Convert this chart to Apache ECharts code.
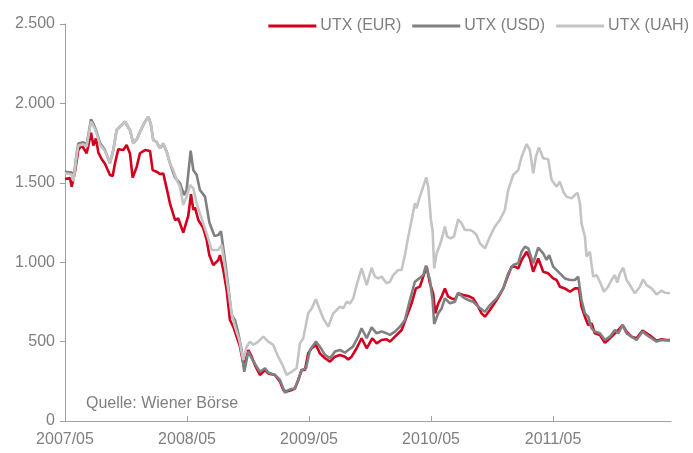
<!DOCTYPE html>
<html>
<head>
<meta charset="utf-8">
<script src="https://cdn.jsdelivr.net/npm/echarts@6/dist/echarts.min.js"></script>
<style>
  html, body { margin: 0; padding: 0; background: #fff; }
  #chart { width: 693px; height: 453px; }
</style>
</head>
<body>
<div id="chart"></div>
<script>
// x values are months since 2007/05
const seriesNames = ['UTX (EUR)', 'UTX (USD)', 'UTX (UAH)'];
const yTicks = [0, 500, 1000, 1500, 2000, 2500];

const eurMonths = [0,0.49,0.66,0.98,1.31,1.64,2.13,2.56,2.79,3.05,
  3.28,3.6,3.93,4.42,4.69,4.92,5.24,5.74,6.06,6.39,
  6.65,7.05,7.37,7.87,8.36,8.62,9.01,9.34,9.67,10.0,
  10.32,10.49,10.82,11.14,11.63,12.12,12.39,12.62,12.78,13.11,
  13.6,13.93,14.19,14.58,14.75,15.08,15.24,15.57,15.9,16.22,
  16.55,16.88,17.21,17.6,18.03,18.36,18.68,19.17,19.67,19.99,
  20.65,21.14,21.47,21.8,22.29,22.62,22.94,23.27,23.6,23.92,
  24.26,24.68,25.07,25.57,26.06,26.55,27.04,27.53,27.86,28.19,
  28.68,29.17,29.67,30.22,30.65,31.14,31.63,31.96,32.45,33.11,
  33.6,34.09,34.51,34.91,35.23,35.57,35.89,36.21,36.41,36.71,
  37.04,37.36,37.69,38.02,38.35,38.67,39.16,39.66,40.15,40.64,
  40.97,41.3,41.79,42.45,43.1,43.59,43.92,44.25,44.57,44.91,
  45.4,45.72,46.05,46.54,47.03,47.52,48.01,48.35,48.67,49.16,
  49.66,50.15,50.54,50.8,51.13,51.46,51.79,52.11,52.61,53.1,
  53.59,54.08,54.41,54.84,55.23,55.72,56.21,56.8,57.2,57.69,
  58.18,58.67,59.16,59.49];
const eurValues = [1524,1530,1475,1570,1706,1738,1686,1816,1734,1780,
  1690,1650,1620,1549,1543,1623,1711,1707,1738,1685,
  1532,1600,1686,1706,1700,1580,1570,1555,1558,1465,
  1371,1380,1266,1275,1186,1291,1429,1330,1345,1266,
  1215,1141,1045,982,972,1014,1045,951,825,636,
  594,531,468,342,447,405,352,290,321,300,
  290,248,195,185,195,206,258,321,321,426,
  458,479,426,395,374,405,416,405,388,405,
  458,521,458,521,489,510,515,500,531,573,
  657,741,835,846,909,972,867,804,678,741,
  783,835,783,772,765,804,793,787,772,720,
  678,657,699,762,835,919,972,972,961,1014,
  1066,1024,940,1024,940,930,898,888,846,835,
  814,835,835,720,657,604,615,552,542,493,
  521,552,573,604,563,531,521,569,552,531,
  506,514,510,510];

const usdMonths = [0,0.66,0.82,1.15,1.31,1.8,2.13,2.56,2.88,3.11,
  3.28,3.44,3.93,4.42,4.75,5.08,5.57,5.9,6.22,6.39,
  6.72,7.11,7.37,7.87,8.19,8.43,8.68,9.01,9.34,9.67,
  10.0,10.32,10.82,11.31,11.7,11.96,12.36,12.62,12.95,13.27,
  13.77,14.2,14.7,15.08,15.34,15.73,16.06,16.39,16.72,17.04,
  17.37,17.63,18.03,18.36,18.85,19.17,19.67,19.99,20.65,21.14,
  21.63,21.96,22.62,22.94,23.27,23.7,24.09,24.68,25.07,25.57,
  26.06,26.55,27.04,27.53,27.86,28.32,28.84,29.17,29.67,30.16,
  30.65,31.14,31.63,31.96,32.45,32.94,33.43,33.92,34.41,34.84,
  35.23,35.5,35.89,36.15,36.31,36.71,37.04,37.36,37.86,38.35,
  38.67,39.16,39.66,40.15,40.64,41.3,41.79,42.45,43.1,43.59,
  44.08,44.57,44.91,45.23,45.56,46.05,46.54,47.03,47.36,47.62,
  48.01,48.67,49.16,49.66,50.15,50.47,50.8,51.13,51.46,51.79,
  52.11,52.61,53.1,53.59,54.08,54.41,54.84,55.23,55.72,56.21,
  56.8,57.2,57.69,58.18,58.67,59.49];
const usdValues = [1570,1564,1520,1686,1748,1755,1740,1900,1860,1820,
  1830,1750,1706,1623,1706,1832,1864,1885,1850,1832,
  1748,1780,1820,1885,1916,1874,1769,1758,1717,1748,
  1696,1623,1534,1497,1423,1455,1702,1580,1549,1455,
  1413,1250,1165,1171,1195,1014,846,667,636,552,
  447,310,437,395,342,310,332,305,290,258,
  178,195,206,258,321,330,447,500,468,416,
  395,437,447,430,447,468,531,584,521,590,
  552,563,552,542,563,594,636,762,877,898,
  919,978,888,762,611,678,709,772,741,751,
  808,779,762,751,720,688,730,772,835,930,
  982,993,1066,1098,1087,993,1092,1056,1014,1045,
  972,930,898,888,888,909,762,678,657,583,
  563,552,510,531,573,552,604,552,531,510,
  563,542,521,500,510,506];

const uahMonths = [0,0.66,0.82,1.15,1.31,1.8,2.13,2.56,2.88,3.11,
  3.28,3.44,3.93,4.42,4.75,5.08,5.57,5.9,6.22,6.39,
  6.72,7.11,7.37,7.87,8.19,8.43,8.68,9.01,9.34,9.67,
  10.0,10.32,
  10.65,10.98,11.31,11.63,11.96,12.29,12.62,12.95,13.27,13.6,
  13.93,14.42,14.58,15.08,15.41,15.73,16.06,16.39,16.72,17.14,
  17.53,17.87,18.19,18.52,19.01,19.5,19.99,20.48,20.97,21.47,
  21.8,22.29,22.78,23.11,23.43,23.92,24.26,24.68,25.07,25.4,
  25.89,26.38,26.72,27.04,27.37,27.7,28.02,28.35,28.68,29.17,
  29.67,30.16,30.48,30.81,31.14,31.63,31.96,32.28,32.77,33.11,
  33.43,33.76,34.09,34.41,34.58,34.84,35.23,35.53,35.72,35.99,
  36.15,36.31,36.55,36.87,37.2,37.36,37.59,37.92,38.25,38.67,
  39.0,39.33,39.82,40.15,40.48,40.81,41.3,41.79,42.28,42.77,
  43.26,43.59,44.08,44.57,44.91,45.4,45.72,46.05,46.31,46.61,
  47.03,47.52,47.86,48.35,48.67,49.0,49.33,49.82,50.15,50.41,
  50.64,50.8,51.13,51.3,51.62,51.95,52.28,52.61,53.0,53.42,
  53.75,54.08,54.31,54.57,54.9,55.23,55.56,56.05,56.54,56.86,
  57.2,57.69,58.18,58.67,59.0,59.49];
const uahValues = [1560,1552,1510,1672,1735,1742,1728,1885,1848,1810,
  1818,1740,1700,1623,1706,1832,1864,1885,1850,1832,
  1748,1780,1820,1885,1916,1874,1769,1758,1717,1748,
  1696,1623,
  1580,1518,1475,1360,1413,1486,1465,1371,1308,1245,
  1182,1077,1066,1077,1108,972,825,678,594,510,
  384,468,500,479,500,531,500,479,405,342,
  290,310,332,489,521,678,709,766,699,646,
  594,678,699,720,710,751,740,772,856,961,
  856,965,909,898,909,867,877,919,951,951,
  1045,1161,1266,1371,1340,1402,1476,1534,1476,1266,
  1203,961,1056,1108,1182,1224,1161,1150,1161,1270,
  1245,1203,1203,1192,1171,1119,1087,1161,1224,1266,
  1329,1455,1549,1580,1664,1744,1706,1559,1664,1723,
  1654,1648,1518,1476,1507,1444,1413,1402,1423,1437,
  1371,1245,1161,1035,1066,909,919,877,814,846,
  888,919,872,930,965,888,856,804,846,892,
  856,835,797,821,808,804];

const colors = ['#d2001e', '#808080', '#c4c4c4'];
const textColor = '#7f7f7f';
const fontFamily = '"Liberation Sans", Arial, sans-serif';

function pairs(xs, ys) {
  const out = [];
  for (let i = 0; i < Math.min(xs.length, ys.length); i++) out.push([xs[i], ys[i]]);
  return out;
}

function fmtThousands(v) {
  if (v < 1000) return String(v);
  return Math.floor(v / 1000) + '.' + String(v % 1000).padStart(3, '0');
}

const chart = echarts.init(document.getElementById('chart'), null, { renderer: 'canvas' });

const lineSeries = [
  [eurMonths, eurValues],
  [usdMonths, usdValues],
  [uahMonths, uahValues]
].map((d, i) => ({
  name: seriesNames[i],
  type: 'line',
  data: pairs(d[0], d[1]),
  showSymbol: false,
  symbol: 'none',
  smooth: false,
  animation: false,
  lineStyle: { color: colors[i], width: 2.6 },
  itemStyle: { color: colors[i] },
  z: 2 + i
}));

chart.setOption({
  backgroundColor: '#fff',
  animation: false,
  textStyle: { fontFamily: fontFamily },
  title: {
    text: 'Quelle: Wiener Börse',
    left: 86,
    top: 396,
    padding: 0,
    textStyle: { color: textColor, fontSize: 16, fontWeight: 'normal', fontFamily: fontFamily }
  },
  legend: {
    right: 4,
    top: 18,
    padding: 0,
    itemGap: 11,
    itemWidth: 48,
    itemHeight: 3,
    icon: 'rect',
    data: seriesNames,
    textStyle: { color: textColor, fontSize: 16, fontFamily: fontFamily, padding: [0, 0, 0, -1] }
  },
  grid: { left: 65, right: 22, top: 24, bottom: 32 },
  xAxis: {
    type: 'value',
    min: 0,
    max: 59.6,
    interval: 12,
    axisLine: { lineStyle: { color: '#a0a0a0', width: 1 } },
    axisTick: { inside: true, length: 5, lineStyle: { color: '#a0a0a0' } },
    splitLine: { show: false },
    axisLabel: {
      color: textColor,
      fontSize: 16,
      fontFamily: fontFamily,
      margin: 11,
      showMaxLabel: false,
      formatter: v => (2007 + Math.round(v / 12)) + '/05'
    }
  },
  yAxis: {
    type: 'value',
    min: yTicks[0],
    max: yTicks[yTicks.length - 1],
    interval: 500,
    axisLine: { show: true, lineStyle: { color: '#a0a0a0', width: 1 } },
    axisTick: { show: true, length: 5, lineStyle: { color: '#a0a0a0' } },
    splitLine: { show: false },
    axisLabel: {
      color: textColor,
      fontSize: 16,
      fontFamily: fontFamily,
      margin: 10,
      formatter: v => fmtThousands(v)
    }
  },
  series: lineSeries
});
</script>
</body>
</html>
